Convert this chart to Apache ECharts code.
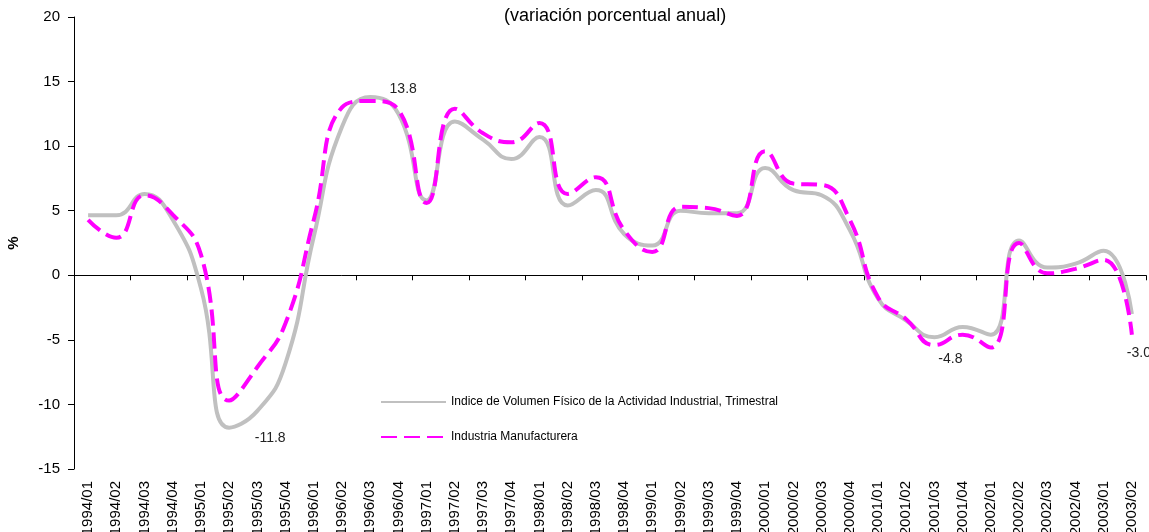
<!DOCTYPE html>
<html>
<head>
<meta charset="utf-8">
<script src="https://cdn.jsdelivr.net/npm/echarts@6/dist/echarts.min.js"></script>
<style>
  html, body { margin: 0; padding: 0; background: #fff; }
  #chart { width: 1149px; height: 532px; }
</style>
</head>
<body>
<div id="chart"></div>
<script>
/* datos: variación porcentual anual, trimestral */
var CATEGORIAS = ['1994/01','1994/02','1994/03','1994/04','1995/01','1995/02','1995/03','1995/04',
  '1996/01','1996/02','1996/03','1996/04','1997/01','1997/02','1997/03','1997/04',
  '1998/01','1998/02','1998/03','1998/04','1999/01','1999/02','1999/03','1999/04',
  '2000/01','2000/02','2000/03','2000/04','2001/01','2001/02','2001/03','2001/04',
  '2002/01','2002/02','2002/03','2002/04','2003/01','2003/02'];

var NOMBRES = ['Indice de Volumen Físico de la Actividad Industrial, Trimestral', 'Industria Manufacturera'];

var IVF = [4.65, 4.65, 6.3, 4.3, -1.0, -11.8, -10.5, -6.8, 3.0, 11.5, 13.8, 12.5, 5.8, 11.9, 10.5, 9.0,
  10.7, 5.4, 6.6, 3.2, 2.3, 5.0, 4.8, 4.8, 8.3, 6.6, 6.2, 3.5, -1.8, -3.5, -4.8, -4.0,
  -4.6, 2.7, 0.6, 0.9, 1.9, -3.0];

var MANUF = [4.3, 2.9, 6.2, 4.7, 1.6, -9.7, -7.1, -3.7, 4.3, 13.0, 13.5, 12.8, 5.6, 12.9, 11.0, 10.3,
  11.8, 6.3, 7.6, 3.5, 1.8, 5.3, 5.2, 4.6, 9.6, 7.1, 7.0, 4.3, -1.7, -3.4, -5.4, -4.6,
  -5.6, 2.5, 0.15, 0.5, 1.2, -4.6];

/* puntos rotulados de la serie IVF (índices) */
var ROTULOS = [10, 5, 30, 37];

var Y_TICKS = { min: -15, max: 20, interval: 5 };

/* desplazamiento de cada rótulo */
var OFFSETS = { 10: [33, -8], 5: [41, 10], 30: [16, 22], 37: [7, 39] };

var FUENTE = '"Liberation Sans", Arial, sans-serif';

var option = {
    animation: false,
    backgroundColor: '#ffffff',
    title: {
        text: '(variación porcentual anual)',
        left: 499,
        top: 2,
        textStyle: { fontFamily: FUENTE, fontSize: 18, fontWeight: 'normal', color: '#000' }
    },
    legend: {
        orient: 'vertical',
        left: 380,
        top: 396,
        padding: 0,
        itemWidth: 65,
        itemHeight: 14,
        itemGap: 23,
        data: NOMBRES,
        itemStyle: { opacity: 0 },   // sin círculo en la leyenda
        textStyle: { fontFamily: FUENTE, fontSize: 12, color: '#000' }
    },
    grid: { left: 74, right: 3, top: 17, bottom: 63, outerBoundsMode: 'none' },
    xAxis: [
        {
            type: 'category',
            data: CATEGORIAS,
            boundaryGap: true,
            axisLine: { onZero: true, lineStyle: { color: '#000', width: 1 } },
            axisTick: { show: true, length: 5, lineStyle: { color: '#000' } },
            axisLabel: { show: false },
            splitLine: { show: false }
        },
        {
            type: 'category',
            data: CATEGORIAS,
            position: 'bottom',
            boundaryGap: true,
            axisLine: { show: false, onZero: false },
            axisTick: { show: false },
            axisLabel: {
                rotate: 90,
                margin: 12,
                interval: 0,
                fontFamily: FUENTE,
                fontSize: 15,
                color: '#000'
            },
            splitLine: { show: false }
        }
    ],
    yAxis: {
        type: 'value',
        min: Y_TICKS.min,
        max: Y_TICKS.max,
        interval: Y_TICKS.interval,
        name: '%',
        nameLocation: 'middle',
        nameRotate: 90,
        nameGap: 53,
        nameTextStyle: { fontFamily: FUENTE, fontSize: 15, fontWeight: 'bold', color: '#000' },
        axisLine: { show: true, lineStyle: { color: '#000', width: 1 } },
        axisTick: { show: true, length: 6, lineStyle: { color: '#000' } },
        axisLabel: { fontFamily: FUENTE, fontSize: 15, color: '#000', margin: 14 },
        splitLine: { show: false }
    },
    series: [
        {
            name: NOMBRES[0],
            type: 'line',
            xAxisIndex: 0,
            data: IVF,
            smooth: 0.5,
            symbol: 'none',
            z: 2,
            lineStyle: { color: '#c0c0c0', width: 4 },
            itemStyle: { color: '#c0c0c0' },
            markPoint: {
                symbol: 'circle',
                symbolSize: 0,
                data: ROTULOS.map(function (i) {
                    return {
                        coord: [CATEGORIAS[i], IVF[i]],
                        value: IVF[i],
                        label: {
                            show: true,
                            offset: OFFSETS[i],
                            formatter: function (p) { return p.value.toFixed(1); },
                            fontFamily: FUENTE,
                            fontSize: 14,
                            color: '#222'
                        }
                    };
                })
            }
        },
        {
            name: NOMBRES[1],
            type: 'line',
            xAxisIndex: 0,
            data: MANUF,
            smooth: 0.5,
            symbol: 'none',
            z: 3,
            lineStyle: { color: '#ff00ff', width: 4, type: [16, 7] },
            itemStyle: { color: '#ff00ff' }
        }
    ]
};

var chart = echarts.init(document.getElementById('chart'));
chart.setOption(option);
</script>
</body>
</html>
